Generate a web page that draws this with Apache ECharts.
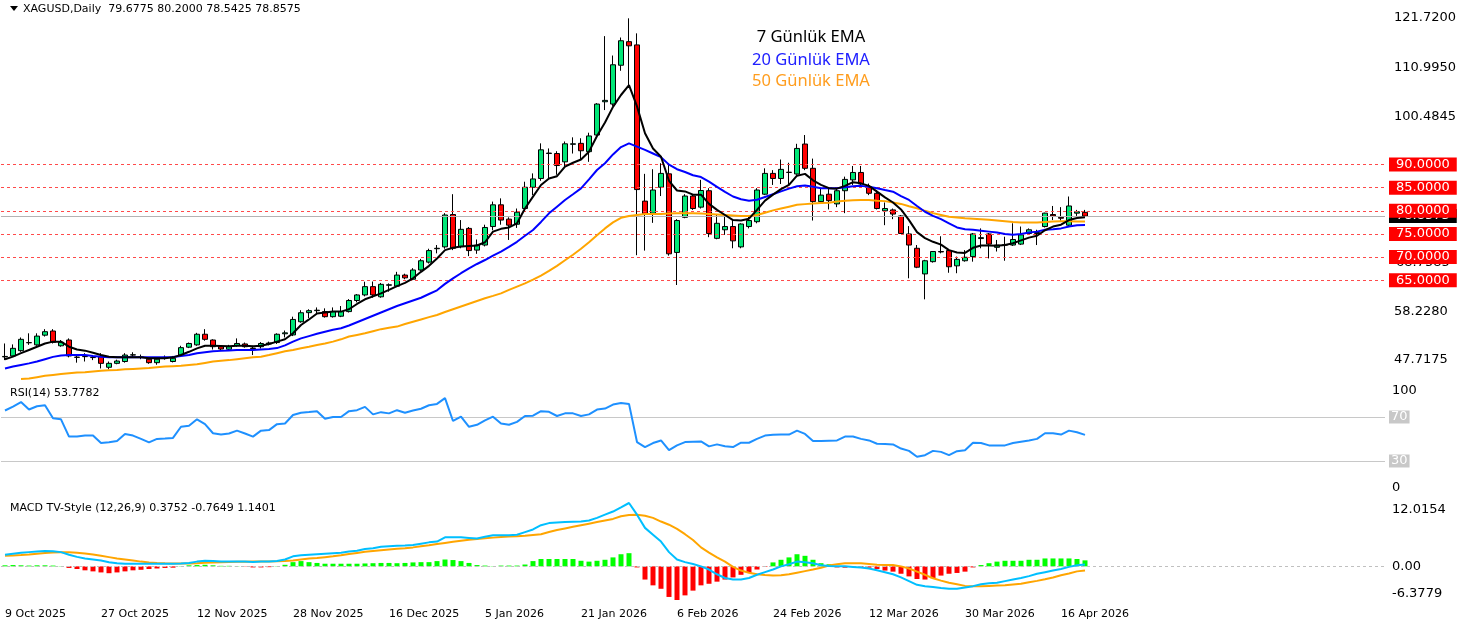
<!DOCTYPE html>
<html><head><meta charset="utf-8">
<script src="https://cdn.jsdelivr.net/npm/echarts@6/dist/echarts.min.js"></script>
<style>html,body{margin:0;padding:0;background:#fff}#c{width:1464px;height:628px}</style>
</head><body><div id="c"></div>
<script>
// ---------- DATA ----------
const tradingMonths = [
 ['Oct','2025',[9,10,13,14,15,16,17,20,21,22,23,24,27,28,29,30,31]],
 ['Nov','2025',[3,4,5,6,7,10,11,12,13,14,17,18,19,20,21,24,25,26,27,28]],
 ['Dec','2025',[1,2,3,4,5,8,9,10,11,12,15,16,17,18,19,22,23,24,26,29,30,31]],
 ['Jan','2026',[2,5,6,7,8,9,12,13,14,15,16,19,20,21,22,23,26,27,28,29,30]],
 ['Feb','2026',[2,3,4,5,6,9,10,11,12,13,16,17,18,19,20,23,24,25,26,27]],
 ['Mar','2026',[2,3,4,5,6,9,10,11,12,13,16,17,18,19,20,23,24,25,26,27,30,31]],
 ['Apr','2026',[1,2,6,7,8,9,10,13,14,15,16,17,20,21]]
];
const opens = [48.4,48.6,49.75,51.45,51.0,53.1,54.0,50.8,52.05,48.3, 48.45,48.3,48.45,46.15,47.0,47.4,48.8,48.4,47.9,47.15, 48.2,47.4,48.8,50.5,51.0,53.3,52.05,50.6,50.05,50.85, 51.2,50.3,50.6,51.2,51.5,53.4,53.15,56.0,57.97,58.4, 58.2,57.1,57.2,58.2,60.6,61.8,63.6,61.4,63.9,63.7, 66.1,65.2,67.2,68.9,71.8,72.2,79.2,72.25,76.2,71.5, 72.6,76.6,81.3,78.2,77.1,80.5,85.1,87.0,92.4,92.4, 90.6,94.4,94.6,92.8,96.4,103.6,103.1,111.5,116.6,115.9, 82.1,79.5,85.1,88.0,71.0,78.6,83.2,80.8,84.35,74.05, 75.9,76.6,72.2,76.6,77.65,83.6,88.1,87.0,88.3,87.97, 94.45,89.2,82.0,83.6,81.5,84.35,86.7,88.3,85.2,83.8, 80.0,80.2,78.9,75.0,71.9,66.35,69.0,71.2,71.4,68.1, 69.2,70.1,74.0,75.0,72.1,72.6,72.6,72.8,75.1,75.1, 76.6,79.2,78.6,76.9,79.5,79.6775];
const highs = [51.3,51.1,52.6,53.5,53.5,54.4,54.4,52.05,52.4,48.6, 49.2,48.8,49.2,47.4,47.8,49.2,49.4,48.9,48.3,48.1, 48.7,48.6,50.8,51.5,53.6,54.4,52.2,50.9,51.0,52.4, 51.5,50.8,51.6,51.7,53.5,54.1,57.1,58.5,58.7,59.1, 58.9,59.1,59.4,60.9,62.0,64.66,64.7,64.4,64.3,66.8, 66.4,67.6,69.6,71.8,72.6,79.5,83.6,78.0,76.5,73.8, 77.0,82.0,82.7,78.6,80.5,86.3,88.1,94.6,93.5,92.9, 95.0,95.9,95.7,96.9,103.3,117.8,113.6,117.5,121.65,118.4, 88.0,89.0,90.3,90.3,78.2,83.6,83.6,86.7,84.9,79.1, 78.7,78.0,77.3,79.1,84.9,89.2,88.8,91.1,90.4,94.5, 96.4,91.3,84.9,84.9,84.9,87.4,89.7,89.7,85.9,84.5, 81.8,80.5,79.1,76.7,72.6,69.4,71.3,74.5,71.5,70.1, 71.5,75.2,76.2,75.2,73.7,74.4,77.3,76.6,76.2,75.9, 79.6,81.05,80.8,83.1,80.2,80.2];
const lows = [47.7,48.45,49.5,51.0,50.8,52.8,51.3,50.6,48.3,47.15, 47.4,47.7,45.9,45.7,46.8,47.15,48.3,47.9,46.9,46.7, 47.8,47.2,48.6,50.3,50.8,51.9,50.0,49.7,49.8,50.6, 50.4,48.8,50.2,50.9,51.2,52.6,52.9,55.8,56.8,57.7, 56.9,56.9,57.0,58.0,60.2,61.5,61.2,61.2,62.5,63.5, 65.2,65.0,67.0,68.6,70.8,71.8,71.5,71.9,70.2,70.7, 72.3,75.8,77.0,73.7,76.3,79.8,83.4,86.5,86.7,87.8, 89.6,92.4,91.0,90.6,96.0,101.8,102.7,110.3,107.2,70.4, 71.4,77.4,83.2,70.3,63.95,78.4,80.2,80.5,74.3,73.85, 74.8,71.9,71.9,76.2,77.3,83.4,85.6,85.8,85.6,87.8, 88.8,77.9,81.6,80.3,80.8,79.5,85.6,85.2,83.4,80.3, 76.9,78.2,75.0,65.4,67.6,60.85,68.8,70.8,66.6,66.5, 69.0,69.0,71.9,69.7,71.2,69.2,72.4,72.6,74.8,72.6, 76.4,78.0,77.9,76.6,78.9,78.5425];
const closes = [48.5,50.25,52.2,51.5,52.9,53.85,51.55,51.55,48.6,48.35, 48.5,48.25,47.0,47.0,47.5,48.8,48.85,48.3,47.15,47.9, 48.3,48.1,50.4,51.3,53.3,52.2,50.6,50.1,50.6,51.3, 50.6,50.2,51.3,51.4,53.3,53.6,56.5,57.95,58.4,58.5, 57.1,58.2,58.2,60.6,61.8,63.6,61.8,64.1,64.0,66.1, 65.5,67.2,69.2,71.4,71.9,79.1,71.9,76.0,71.4,72.6, 76.4,81.3,78.0,76.9,79.7,85.1,86.9,93.2,92.5,89.8, 94.5,94.5,93.0,96.2,103.1,103.9,111.6,116.8,115.7,84.6, 79.4,84.5,88.1,70.7,77.9,83.2,80.5,84.4,75.1,77.3, 76.6,73.5,77.15,77.9,84.5,88.1,87.0,88.97,88.35,93.5, 89.2,82.0,83.4,82.2,84.35,86.8,88.3,85.8,83.8,80.5, 80.5,79.3,75.1,72.6,67.8,69.2,71.2,71.1,67.9,69.5, 69.95,75.0,74.2,72.8,72.6,72.65,73.8,74.8,75.9,75.3, 79.5,78.9,78.4,81.05,79.8,78.8575];
const ema7 = [47.9,48.45,49.2,49.9,50.6,51.3,51.7,51.7,50.6,50.0, 49.75,49.3,48.8,48.45,48.3,48.3,48.3,48.3,48.1,48.1, 48.1,48.3,48.8,49.5,50.25,50.8,50.8,50.75,50.7,50.8, 50.8,50.7,50.8,51.2,51.7,52.2,53.5,55.3,56.5,57.8, 58.0,58.2,58.2,58.7,59.85,60.86,61.5,62.15,62.9,63.7, 64.4,65.4,66.8,68.1,69.7,71.5,72.0,72.3,72.4,72.5, 73.2,75.5,76.1,76.4,77.3,80.5,83.07,85.6,87.0,87.5, 89.55,90.4,91.1,92.8,96.2,99.1,102.5,105.06,107.2,102.6, 96.77,93.5,91.7,86.5,84.4,84.2,83.5,83.5,81.5,80.2, 79.1,78.0,77.9,78.3,80.2,82.2,83.5,84.7,85.6,87.6, 88.0,86.6,85.6,84.9,84.8,85.4,86.2,85.95,85.4,84.15, 82.9,81.8,80.3,78.0,75.4,74.1,73.3,72.7,71.5,71.0, 70.9,72.0,72.5,72.5,72.45,72.6,73.0,73.6,74.2,74.6, 75.8,76.6,77.0,78.0,78.45,78.6];
const ema20 = [45.9,46.3,46.65,47.0,47.4,47.9,48.4,48.7,48.8,48.8, 48.8,48.6,48.45,48.3,48.3,48.3,48.3,48.3,48.3,48.3, 48.3,48.4,48.6,48.8,49.2,49.4,49.6,49.7,49.8,49.9, 49.9,49.9,50.0,50.1,50.3,50.9,51.7,52.4,52.9,53.4, 53.85,54.25,54.6,55.2,55.9,56.6,57.3,58.0,58.7,59.4, 60.0,60.6,61.2,62.0,62.8,64.2,65.4,66.5,67.56,68.5, 69.36,70.3,71.17,72.2,73.3,74.6,75.85,77.6,79.46,80.9, 82.34,83.6,84.87,86.8,88.83,90.3,92.2,93.8,94.6,93.9, 93.2,92.4,91.6,90.0,89.0,88.4,87.7,87.3,86.3,85.2, 84.1,83.1,82.5,82.2,82.4,83.0,83.6,84.2,84.8,85.3, 85.5,85.2,84.9,84.9,84.9,85.1,85.3,85.4,85.2,84.9, 84.5,84.15,83.2,82.35,81.05,79.8,78.9,78.2,77.3,76.4, 76.0,75.9,75.7,75.5,75.3,75.0,74.8,75.0,75.3,75.5, 75.9,76.0,76.2,76.6,76.9,76.95];
const ema50 = [null,null,43.6,43.7,44.0,44.3,44.5,44.7,44.85,45.0, 45.1,45.25,45.4,45.5,45.57,45.7,45.8,45.9,46.0,46.15, 46.3,46.4,46.5,46.65,46.8,47.1,47.4,47.55,47.7,47.9, 48.1,48.3,48.45,48.8,49.2,49.6,49.9,50.26,50.6,50.98, 51.3,51.7,52.2,52.8,53.15,53.5,53.95,54.4,54.7,54.95, 55.5,56.0,56.5,57.0,57.47,58.1,58.7,59.3,59.9,60.5, 61.07,61.6,62.15,62.9,63.6,64.3,65.1,66.0,67.0,68.1, 69.3,70.5,71.8,73.2,74.7,76.2,77.5,78.5,78.9,79.1, 79.3,79.3,79.3,79.4,79.5,79.5,79.5,79.4,79.3,79.2, 79.1,79.0,78.9,78.9,79.1,79.6,80.1,80.5,80.9,81.3, 81.45,81.6,81.7,81.77,82.0,82.2,82.3,82.35,82.35,82.2, 82.1,81.8,81.5,81.0,80.55,80.0,79.5,79.1,78.7,78.55, 78.4,78.3,78.2,78.05,77.9,77.75,77.6,77.5,77.45,77.5, 77.6,77.7,77.75,77.75,77.7,77.7];
const rsi = [75.9,79.5,83.6,76.8,79.8,80.7,68.8,67.9,52.2,52.2, 53.1,53.1,46.3,47.0,48.1,54.6,53.1,50.1,46.9,50.1, 50.4,51.0,61.1,62.0,67.9,63.5,55.2,54.0,55.0,57.6, 55.0,52.2,57.6,58.1,63.5,64.1,71.8,73.9,74.5,75.3, 68.5,70.0,70.0,75.3,76.2,79.2,72.4,74.4,73.3,76.2, 73.9,75.9,77.5,80.7,81.9,87.2,66.4,70.3,61.1,62.9, 67.0,70.3,64.1,62.9,65.6,70.9,71.2,75.3,74.7,70.9, 73.3,73.3,70.9,72.4,76.8,77.7,81.3,82.7,81.9,47.2, 42.7,46.3,48.7,39.8,44.2,47.2,47.5,47.8,43.3,45.1, 43.5,42.7,46.6,46.6,50.1,53.1,53.8,54.0,54.0,57.6, 54.6,48.1,48.1,48.4,48.7,52.2,52.2,50.1,48.7,45.7, 45.4,45.1,41.3,39.2,33.9,35.3,39.2,38.3,35.3,38.9, 39.8,46.6,46.3,44.2,44.2,44.2,46.3,47.5,48.7,50.1, 55.2,55.2,54.0,57.6,56.1,53.7782];
const macdLine = [2.2,2.4,2.6,2.7,2.8,2.9,2.85,2.7,2.2,1.8, 1.5,1.3,1.1,0.8,0.6,0.5,0.5,0.5,0.5,0.5, 0.5,0.5,0.55,0.65,0.9,1.05,1.0,0.9,0.9,0.9, 0.9,0.85,0.9,0.9,1.0,1.3,1.9,2.1,2.2,2.3, 2.4,2.5,2.6,2.8,2.95,3.3,3.45,3.7,3.8,3.9, 3.95,4.05,4.3,4.55,4.7,5.5,5.5,5.5,5.4,5.3, 5.6,5.9,5.9,5.9,6.0,6.5,7.0,7.8,8.2,8.3, 8.4,8.45,8.5,8.7,9.2,9.8,10.4,11.2,12.0154,9.8, 7.3,6.0,4.7,2.7,1.3,0.8,0.45,0.0,-0.6,-1.5, -2.2,-2.5,-2.5,-2.2,-1.6,-1.1,-0.6,0.0,0.4,0.9, 0.8,0.6,0.2,0.05,0.0,0.0,-0.1,-0.2,-0.4,-0.75, -1.1,-1.5,-2.1,-2.8,-3.5,-3.75,-3.9,-4.1,-4.25,-4.25, -4.0,-3.75,-3.4,-3.2,-3.1,-2.8,-2.5,-2.2,-1.85,-1.4, -1.1,-0.8,-0.5,-0.1,0.2,0.3752];
const signalLine = [2.0,2.07,2.15,2.25,2.4,2.55,2.65,2.7,2.68,2.58, 2.45,2.25,2.0,1.75,1.5,1.3,1.1,0.9,0.75,0.65, 0.58,0.56,0.56,0.56,0.6,0.68,0.74,0.78,0.82,0.86, 0.88,0.9,0.92,0.93,0.95,1.02,1.1,1.3,1.5,1.6, 1.75,1.9,2.1,2.35,2.55,2.75,2.9,3.05,3.2,3.35, 3.45,3.6,3.8,4.0,4.25,4.45,4.65,4.85,5.05,5.2, 5.35,5.45,5.55,5.65,5.7,5.8,5.95,6.1,6.5,6.9, 7.2,7.5,7.8,8.1,8.4,8.7,9.0,9.5,9.75,9.8, 9.6,9.2,8.5,7.9,7.1,6.1,5.0,3.6,2.6,1.7, 0.9,-0.1,-0.8,-1.2,-1.5,-1.65,-1.75,-1.7,-1.5,-1.2, -0.9,-0.6,-0.25,0.15,0.4,0.6,0.6,0.6,0.45,0.3, 0.25,0.25,0.0,-0.4,-1.0,-1.6,-2.25,-2.7,-3.1,-3.4, -3.7,-3.75,-3.75,-3.7,-3.65,-3.6,-3.45,-3.3,-3.0,-2.75, -2.45,-2.1,-1.7,-1.35,-0.95,-0.7649];
const macdHist = [0.2,0.25,0.2,0.15,0.2,0.2,0.15,0.05,-0.3,-0.5, -0.75,-0.95,-1.15,-1.3,-1.15,-0.95,-0.75,-0.65,-0.5,-0.4, -0.3,-0.25,0.05,0.2,0.25,0.3,0.2,0.1,0.1,0.05, -0.05,-0.2,-0.2,-0.15,0.05,0.3,0.8,1.0,0.8,0.65, 0.5,0.5,0.5,0.5,0.5,0.55,0.6,0.65,0.65,0.6, 0.65,0.75,0.8,0.8,1.0,1.3,1.2,1.0,0.65,0.25, 0.15,0.05,0.15,0.15,0.15,0.35,1.0,1.4,1.4,1.4, 1.4,1.4,1.06,0.9,1.06,1.25,1.7,2.3,2.5,-0.2, -2.5,-3.6,-4.25,-5.8,-6.3779,-5.5,-4.6,-3.6,-3.3,-2.9, -2.5,-2.1,-1.6,-1.25,-0.6,-0.1,0.75,1.25,1.7,2.3, 2.0,1.25,0.6,0.4,-0.2,-0.25,-0.1,-0.15,-0.25,-0.5, -0.8,-1.0,-1.4,-1.9,-2.4,-2.5,-2.25,-1.75,-1.4,-1.25, -1.0,-0.2,0.25,0.6,0.9,1.06,1.06,1.06,1.25,1.25, 1.5,1.5,1.5,1.5,1.4,1.1401];
const priceTicks = [121.72, 110.995, 100.4845, 58.228, 47.7175];
const priceLevels = [90, 85, 80, 75, 70, 65];
const bidPrice = 78.8575;
const hiddenPrice = 68.7585;
const rsiLevels = [70, 30];
const rsiTicks = [100, 0];
const macdTicks = [12.0154, 0, -6.3779];
const titleText = 'XAGUSD,Daily  79.6775 80.2000 78.5425 78.8575';
const rsiTitle = 'RSI(14) 53.7782';
const macdTitle = 'MACD TV-Style (12,26,9) 0.3752 -0.7649 1.1401';
const legendItems = ['7 Günlük EMA', '20 Günlük EMA', '50 Günlük EMA'];

// ---------- BUILD ----------
const dates = [];
tradingMonths.forEach(([m, y, days]) => days.forEach(d => dates.push(d + ' ' + m + ' ' + y)));
const SLOTS = 173;
const cats = dates.concat(new Array(SLOTS - dates.length).fill(''));
const candles = dates.map((_, i) => [opens[i], closes[i], lows[i], highs[i]]);

const F = '"DejaVu Sans", Verdana, sans-serif';
const AX = 13; // right scale font size
const GL = 1, GW = 1384;
const C_EMA7 = '#000000', C_EMA20 = '#0000ff', C_EMA50 = '#ffa500';
const NOLINE = 'rgba(0,0,0,0)';

const chart = echarts.init(document.getElementById('c'), null, {renderer: 'canvas'});
const hideX = (gi) => ({type: 'category', gridIndex: gi, data: cats, boundaryGap: true, show: false});
const yBase = {position: 'right', splitLine: {show: false}, axisLine: {show: false}, axisTick: {show: false}};
const boxLabel = (fmt, bg, dist) => ({show: true, position: 'end', distance: dist, formatter: fmt,
  backgroundColor: bg, color: '#fff', padding: [0, 7, 0, 7], lineHeight: 14, fontFamily: F, fontSize: AX});

chart.setOption({
  animation: false,
  backgroundColor: '#ffffff',
  grid: [
    {left: GL, top: 0, width: GW, height: 382},
    {left: GL, top: 384, width: GW, height: 110},
    {left: GL, top: 503, width: GW, height: 97}
  ],
  xAxis: [
    hideX(0), hideX(1),
    {type: 'category', gridIndex: 2, data: cats, boundaryGap: true,
     axisLine: {show: false}, axisTick: {show: false},
     axisLabel: {interval: (i, v) => i % 12 === 0 && v !== '', align: 'left', margin: 9,
                 color: '#000', fontFamily: F, fontSize: 11}}
  ],
  yAxis: [
    Object.assign({type: 'value', gridIndex: 0, min: 42.9662, max: 125.6144,
      axisLabel: {customValues: priceTicks, formatter: v => v.toFixed(4), color: '#000', fontFamily: F, fontSize: AX, margin: 9}}, yBase),
    Object.assign({type: 'value', gridIndex: 1, min: 0, max: 100,
      axisLabel: {customValues: rsiTicks, formatter: v => String(v), color: '#000', fontFamily: F, fontSize: AX, margin: 7,
                  verticalAlignMaxLabel: 'bottom', verticalAlignMinLabel: 'top'}}, yBase),
    Object.assign({type: 'value', gridIndex: 2, min: -6.3779, max: 12.0154,
      axisLabel: {customValues: macdTicks, formatter: v => v === 0 ? '0.00' : v.toFixed(4), color: '#000', fontFamily: F, fontSize: AX, margin: 7,
                  verticalAlignMaxLabel: 'bottom', verticalAlignMinLabel: 'top'}}, yBase)
  ],
  graphic: [
    {type: 'polygon', shape: {points: [[10, 6], [18, 6], [14, 11]]}, style: {fill: '#000'}},
    {type: 'text', x: 23, y: 9, style: {text: titleText, font: '11px ' + F, fill: '#000', verticalAlign: 'middle'}},
    {type: 'text', x: 10, y: 393, style: {text: rsiTitle, font: '11px ' + F, fill: '#000', verticalAlign: 'middle'}},
    {type: 'text', x: 10, y: 508, style: {text: macdTitle, font: '11px ' + F, fill: '#000', verticalAlign: 'middle'}},
    {type: 'text', x: 811, y: 37, style: {text: legendItems[0], font: '16.5px "Noto Sans"', fill: C_EMA7, align: 'center', verticalAlign: 'middle'}},
    {type: 'text', x: 811, y: 60, style: {text: legendItems[1], font: '16.5px "Noto Sans"', fill: '#2020ff', align: 'center', verticalAlign: 'middle'}},
    {type: 'text', x: 811, y: 81, style: {text: legendItems[2], font: '16.5px "Noto Sans"', fill: '#ff9d1e', align: 'center', verticalAlign: 'middle'}}
  ],
  series: [
    {type: 'line', name: 'levels', xAxisIndex: 0, yAxisIndex: 0, data: [], z: 1, silent: true,
     markLine: {symbol: 'none', silent: true, animation: false,
       lineStyle: {color: '#ff4a4a', type: [3, 3], width: 1}, label: {show: false},
       data: priceLevels.map(v => ({yAxis: v}))}},
    {type: 'line', name: 'bid', xAxisIndex: 0, yAxisIndex: 0, data: [], z: 2, silent: true,
     markLine: {symbol: 'none', silent: true, animation: false,
       lineStyle: {color: '#b4b4b4', type: 'solid', width: 1},
       label: boxLabel(() => bidPrice.toFixed(4), '#000', 4),
       data: [{yAxis: bidPrice}]}},
    {type: 'line', name: 'hidden', xAxisIndex: 0, yAxisIndex: 0, data: [], z: 3, silent: true,
     markLine: {symbol: 'none', silent: true, animation: false,
       lineStyle: {color: NOLINE, width: 1},
       label: {show: true, position: 'end', distance: 11, formatter: () => hiddenPrice.toFixed(4),
               color: '#000', fontFamily: F, fontSize: AX},
       data: [{yAxis: hiddenPrice}]}},
    {type: 'candlestick', name: 'XAGUSD', xAxisIndex: 0, yAxisIndex: 0, data: candles, z: 4, barWidth: 5,
     itemStyle: {color: '#00e676', color0: '#ff0000', borderColor: '#000', borderColor0: '#000', borderWidth: 1}},
    {type: 'line', name: 'EMA50', xAxisIndex: 0, yAxisIndex: 0, data: ema50, z: 5, showSymbol: false, symbol: 'none',
     lineStyle: {color: C_EMA50, width: 2}},
    {type: 'line', name: 'EMA20', xAxisIndex: 0, yAxisIndex: 0, data: ema20, z: 6, showSymbol: false, symbol: 'none',
     lineStyle: {color: C_EMA20, width: 2}},
    {type: 'line', name: 'EMA7', xAxisIndex: 0, yAxisIndex: 0, data: ema7, z: 7, showSymbol: false, symbol: 'none',
     lineStyle: {color: C_EMA7, width: 2}},
    {type: 'line', name: 'levelLabels', xAxisIndex: 0, yAxisIndex: 0, data: [], z: 20, silent: true,
     markLine: {symbol: 'none', silent: true, animation: false,
       lineStyle: {color: NOLINE, width: 1},
       label: boxLabel(p => Number(p.value).toFixed(4), '#ff0000', 4),
       data: priceLevels.map(v => ({yAxis: v}))}},
    {type: 'line', name: 'RSI', xAxisIndex: 1, yAxisIndex: 1, data: rsi, z: 5, showSymbol: false, symbol: 'none',
     lineStyle: {color: '#1e90ff', width: 2},
     markLine: {symbol: 'none', silent: true, animation: false,
       lineStyle: {color: '#c8c8c8', type: 'solid', width: 1},
       label: {show: true, position: 'end', distance: 4, formatter: p => String(p.value),
               backgroundColor: '#c8c8c8', color: '#fff', padding: [0, 2, 0, 2], lineHeight: 13, fontFamily: F, fontSize: AX},
       data: rsiLevels.map(v => ({yAxis: v}))}},
    {type: 'bar', name: 'Hist', xAxisIndex: 2, yAxisIndex: 2, data: macdHist, z: 3, barWidth: 5,
     itemStyle: {color: p => p.value >= 0 ? '#00ff00' : '#ff0000'},
     markLine: {symbol: 'none', silent: true, animation: false,
       lineStyle: {color: '#c0c0c0', type: [3, 3], width: 1}, label: {show: false},
       data: [{yAxis: 0}]}},
    {type: 'line', name: 'Signal', xAxisIndex: 2, yAxisIndex: 2, data: signalLine, z: 5, showSymbol: false, symbol: 'none',
     lineStyle: {color: '#ffa500', width: 2}},
    {type: 'line', name: 'MACD', xAxisIndex: 2, yAxisIndex: 2, data: macdLine, z: 6, showSymbol: false, symbol: 'none',
     lineStyle: {color: '#00bfff', width: 2}}
  ]
});
</script>
</body></html>
